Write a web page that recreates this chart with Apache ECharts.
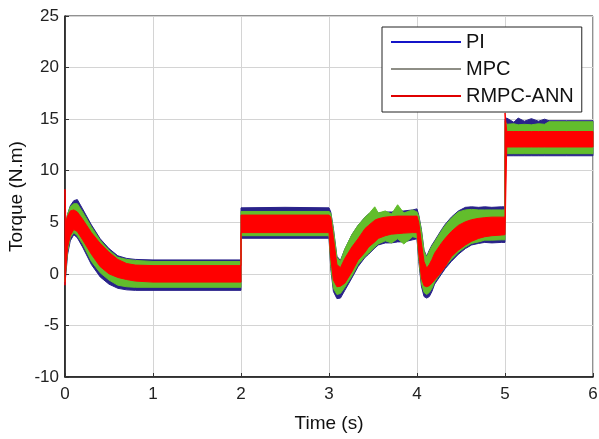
<!DOCTYPE html>
<html>
<head>
<meta charset="utf-8">
<script src="https://cdn.jsdelivr.net/npm/echarts@6/dist/echarts.min.js"></script>
<style>
  html, body { margin: 0; padding: 0; background: #fff; }
  #chart { width: 599px; height: 439px; }
</style>
</head>
<body>
<div id="chart"></div>
<script>
// Time samples (s) shared by all envelopes; repeated times mark the load steps
const time = [
  0, 0.01, 0.03, 0.06, 0.1, 0.14, 0.2, 0.3, 0.4, 0.5, 0.6, 0.7, 0.8, 1.0, 1.5, 2.0,
  2.0, 2.5, 3.0,
  3.02, 3.05, 3.09, 3.13, 3.18, 3.26, 3.33, 3.41, 3.45, 3.52, 3.56, 3.64, 3.71, 3.78, 3.85, 3.95, 4.0,
  4.02, 4.05, 4.08, 4.11, 4.14, 4.17, 4.2, 4.28, 4.32, 4.39, 4.47, 4.55, 4.62, 4.7, 4.77, 4.85, 4.96, 5.0,
  5.0, 5.02, 5.1, 5.15, 5.22, 5.3, 5.38, 5.45, 5.5, 5.7, 6.0
];

// PI torque ripple envelope (N.m)
const piUpper = [
  2.0, 4.8, 5.8, 6.6, 7.1, 7.2, 6.3, 4.75, 3.4, 2.45, 1.75, 1.5, 1.4, 1.35, 1.35, 1.35,
  6.4, 6.45, 6.4,
  6.0, 4.4, 1.7, 1.3, 2.4, 3.8, 4.7, 5.5, 5.8, 5.9, 5.9, 6.0, 6.0, 6.1, 6.1, 6.2, 6.3,
  5.7, 4.3, 2.3, 1.7, 2.3, 2.8, 3.2, 4.3, 4.8, 5.5, 6.1, 6.45, 6.5, 6.45, 6.5, 6.45, 6.5, 6.5,
  15.0, 15.1, 14.7, 15.1, 14.8, 15.05, 14.8, 15.0, 14.85, 14.85, 14.85
];
const piLower = [
  -1.0, 0.0, 1.9, 3.2, 3.8, 3.5, 2.6, 0.9, -0.3, -1.0, -1.4, -1.55, -1.6, -1.6, -1.6, -1.6,
  3.45, 3.45, 3.45,
  0.5, -1.7, -2.4, -2.35, -1.6, -0.4, 0.7, 1.6, 1.9, 2.5, 2.8, 3.0, 3.0, 3.1, 3.1, 3.3, 3.4,
  1.2, -1.2, -2.2, -2.35, -2.2, -1.7, -1.0, 0.0, 0.5, 1.2, 1.9, 2.45, 2.8, 2.95, 3.05, 3.0, 3.05, 3.05,
  11.45, 11.45, 11.45, 11.45, 11.45, 11.45, 11.45, 11.45, 11.45, 11.45, 11.45
];

// MPC torque ripple envelope (N.m)
const mpcUpper = [
  1.5, 5.0, 5.8, 6.5, 6.8, 6.8, 6.0, 4.55, 3.25, 2.3, 1.6, 1.4, 1.3, 1.2, 1.2, 1.2,
  6.05, 6.05, 6.05,
  5.9, 4.3, 1.6, 1.2, 2.4, 3.8, 4.7, 5.5, 5.8, 6.5, 5.9, 6.1, 5.8, 6.7, 5.9, 6.2, 6.0,
  5.6, 4.2, 2.2, 1.6, 2.2, 2.7, 3.1, 4.2, 4.7, 5.4, 6.0, 6.2, 6.25, 6.2, 6.2, 6.2, 6.2, 6.2,
  14.8, 14.5, 14.55, 14.45, 14.5, 14.45, 14.55, 14.5, 14.75, 14.75, 14.75
];
const mpcLower = [
  -0.8, 0.3, 2.2, 3.5, 4.0, 3.7, 2.9, 1.2, 0.1, -0.6, -1.1, -1.25, -1.3, -1.3, -1.3, -1.3,
  3.7, 3.7, 3.7,
  0.8, -1.4, -2.0, -1.9, -1.3, -0.2, 0.9, 1.7, 2.0, 2.6, 2.9, 3.2, 3.0, 3.4, 2.9, 3.6, 3.5,
  1.5, -0.9, -1.8, -2.0, -1.8, -1.4, -0.8, 0.2, 0.7, 1.4, 2.1, 2.6, 2.95, 3.1, 3.27, 3.27, 3.3, 3.3,
  11.65, 11.65, 11.65, 11.65, 11.65, 11.65, 11.65, 11.65, 11.65, 11.65, 11.65
];

// RMPC-ANN torque ripple envelope (N.m)
const rmpcUpper = [
  8.2, 5.0, 5.6, 6.1, 6.2, 6.0, 5.3, 4.0, 2.95, 2.1, 1.4, 1.0, 0.85, 0.8, 0.8, 0.8,
  5.7, 5.7, 5.7,
  5.5, 3.5, 0.9, 0.6, 1.5, 2.6, 3.4, 4.4, 4.7, 5.2, 5.35, 5.5, 5.55, 5.6, 5.6, 5.6, 5.6,
  5.0, 3.0, 1.2, 0.55, 0.9, 1.4, 2.0, 3.0, 3.44, 4.1, 4.7, 5.05, 5.25, 5.38, 5.45, 5.5, 5.5, 5.5,
  15.6, 13.8, 13.8, 13.8, 13.8, 13.8, 13.8, 13.8, 13.8, 13.8, 13.8
];
const rmpcLower = [
  -1.1, 0.5, 2.6, 3.7, 4.3, 4.1, 3.3, 1.9, 0.7, 0.0, -0.35, -0.55, -0.7, -0.8, -0.8, -0.8,
  4.0, 4.0, 4.0,
  1.5, -0.6, -1.25, -1.2, -0.9, 0.2, 1.33, 2.1, 2.6, 3.1, 3.44, 3.7, 3.85, 3.9, 3.95, 4.0, 4.0,
  2.0, -0.4, -1.15, -1.25, -1.15, -0.9, -0.6, 0.2, 0.7, 1.65, 2.3, 2.8, 3.15, 3.44, 3.6, 3.7, 3.76, 3.8,
  3.8, 12.3, 12.3, 12.3, 12.3, 12.3, 12.3, 12.3, 12.3, 12.3, 12.3
];

const xTicks = [0, 1, 2, 3, 4, 5, 6];
const yTicks = [-10, -5, 0, 5, 10, 15, 20, 25];

// Ripple band: one filled polygon between the upper and lower envelopes
function band(name, upper, lower, fill) {
  return {
    name: name,
    type: 'custom',
    coordinateSystem: 'cartesian2d',
    itemStyle: { color: fill },
    data: [[time[0], upper[0]]],
    renderItem: function (params, api) {
      const pts = [];
      for (let i = 0; i < time.length; i++) pts.push(api.coord([time[i], upper[i]]));
      for (let i = time.length - 1; i >= 0; i--) pts.push(api.coord([time[i], lower[i]]));
      return {
        type: 'polygon',
        shape: { points: pts },
        style: { fill: fill, stroke: fill, lineWidth: 1 }
      };
    }
  };
}

const font = 'Liberation Sans, Arial, sans-serif';
const chart = echarts.init(document.getElementById('chart'), null, { renderer: 'canvas' });
chart.setOption({
  animation: false,
  backgroundColor: '#fff',
  grid: {
    left: 65, right: 6, top: 16, bottom: 62,
    containLabel: false, outerBoundsMode: 'none',
    show: true, borderColor: '#222', borderWidth: 1
  },
  legend: {
    orient: 'vertical',
    left: 382, top: 27,
    padding: [5, 8, 6, 9],
    itemWidth: 70, itemHeight: 2, itemGap: 7,
    icon: 'rect',
    borderColor: '#222', borderWidth: 1, backgroundColor: '#fff',
    textStyle: { fontFamily: font, fontSize: 20, lineHeight: 20, color: '#111' },
    data: [
      { name: 'PI', itemStyle: { color: '#1414c8' } },
      { name: 'MPC', itemStyle: { color: '#8e8e86' } },
      { name: 'RMPC-ANN', itemStyle: { color: '#e00000' } }
    ]
  },
  xAxis: {
    type: 'value', min: 0, max: 6, interval: 1,
    name: 'Time (s)', nameLocation: 'middle', nameGap: 37,
    nameTextStyle: { fontFamily: font, fontSize: 19, color: '#111' },
    axisLine: { onZero: false, lineStyle: { color: '#111', width: 1.5 } },
    axisTick: { inside: true, length: 4, lineStyle: { color: '#333' } },
    axisLabel: {
      fontFamily: font, fontSize: 17, color: '#222', margin: 9,
      formatter: v => xTicks.includes(v) ? String(v) : ''
    },
    splitLine: { show: true, lineStyle: { color: '#d4d4d4', width: 1 } }
  },
  yAxis: {
    type: 'value', min: -10, max: 25, interval: 5,
    name: 'Torque (N.m)', nameLocation: 'middle', nameGap: 39,
    nameMoveOverlap: false,
    nameTextStyle: { fontFamily: font, fontSize: 19, color: '#111' },
    axisLine: { onZero: false, lineStyle: { color: '#111', width: 1.5 } },
    axisTick: { inside: true, length: 4, lineStyle: { color: '#333' } },
    axisLabel: {
      fontFamily: font, fontSize: 17, color: '#222', margin: 6,
      formatter: v => yTicks.includes(v) ? String(v) : ''
    },
    splitLine: { show: true, lineStyle: { color: '#d4d4d4', width: 1 } }
  },
  series: [
    band('PI', piUpper, piLower, '#29228a'),
    band('MPC', mpcUpper, mpcLower, '#62bd2c'),
    band('RMPC-ANN', rmpcUpper, rmpcLower, '#ff0000')
  ]
});
</script>
</body>
</html>
